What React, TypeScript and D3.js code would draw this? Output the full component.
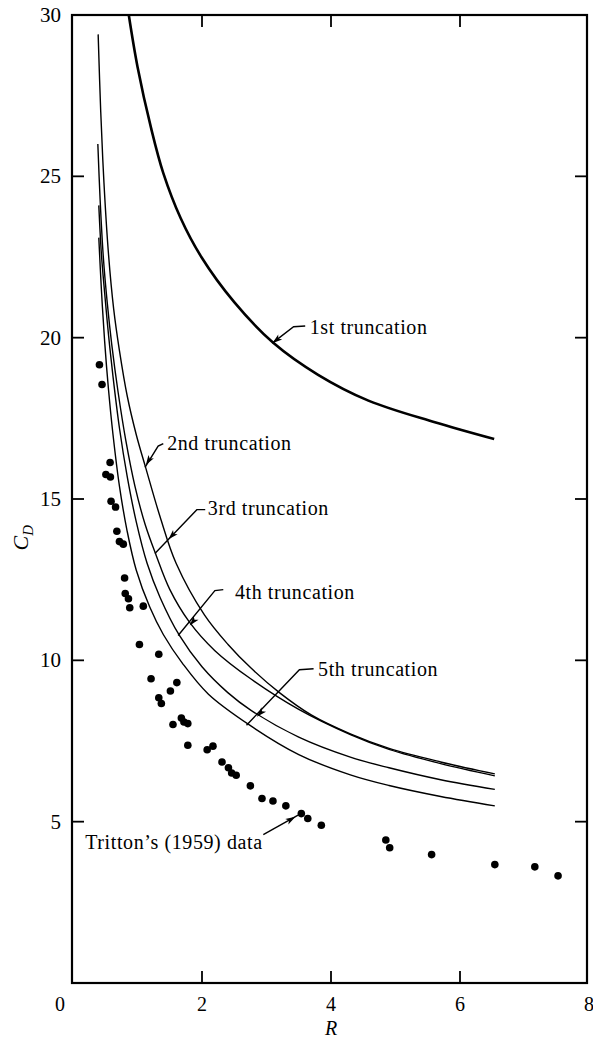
import React from "react";
import * as d3 from "d3";

// ---- axis ticks ----
const R_TICKS = [0, 2, 4, 6, 8];
const CD_TICKS = [5, 10, 15, 20, 25, 30];

// ---- truncation curves [R, C_D] ----
const trunc1: [number, number][] = [
  [0.865, 30], [1.0, 28.4], [1.21, 26.5], [1.4, 25.1], [1.67, 23.7], [1.99, 22.5],
  [2.5, 21.1], [3.1, 19.85], [3.8, 18.85], [4.58, 18.05], [5.61, 17.38], [6.53, 16.86],
];
const trunc2: [number, number][] = [
  [0.39, 29.4], [0.43, 27.0], [0.48, 24.8], [0.55, 22.6], [0.63, 20.9], [0.72, 19.6],
  [0.84, 18.2], [0.98, 17.0], [1.13, 15.95], [1.35, 14.45], [1.6, 13.0], [2.04, 11.4],
  [2.4, 10.5], [2.76, 9.76], [3.2, 9.0], [3.7, 8.3], [4.3, 7.72], [4.9, 7.27],
  [5.7, 6.85], [6.54, 6.48],
];
const trunc3: [number, number][] = [
  [0.385, 26.0], [0.42, 24.3], [0.47, 22.5], [0.53, 21.1], [0.6, 19.8], [0.7, 18.3],
  [0.82, 16.8], [0.96, 15.4], [1.12, 14.2], [1.29, 13.25], [1.5, 12.2], [1.8, 11.2],
  [2.2, 10.3], [2.76, 9.42], [3.5, 8.48], [4.3, 7.7], [4.9, 7.24], [5.7, 6.8], [6.54, 6.42],
];
const trunc4: [number, number][] = [
  [0.4, 24.1], [0.44, 22.6], [0.49, 21.4], [0.55, 20.1], [0.62, 18.8], [0.72, 17.2],
  [0.84, 15.7], [0.98, 14.3], [1.15, 13.0], [1.35, 11.95], [1.65, 10.77], [2.0, 9.8],
  [2.4, 9.0], [2.76, 8.45], [3.5, 7.62], [4.3, 7.0], [4.9, 6.67], [5.7, 6.3], [6.54, 6.0],
];
const trunc5: [number, number][] = [
  [0.4, 23.1], [0.44, 21.5], [0.49, 19.9], [0.55, 18.4], [0.62, 17.0], [0.72, 15.4],
  [0.84, 14.0], [0.98, 12.8], [1.19, 11.65], [1.4, 10.8], [1.7, 9.9], [2.1, 8.95],
  [2.74, 7.99], [3.5, 7.08], [4.3, 6.45], [4.9, 6.12], [5.7, 5.78], [6.54, 5.49],
];

// ---- Tritton's (1959) data ----
const trittonR = [
  0.41, 0.45, 0.575, 0.51, 0.58, 0.59, 0.66, 0.68, 0.72, 0.78, 0.8, 0.81, 0.86, 0.88,
  1.09, 1.03, 1.33, 1.21, 1.61, 1.51, 1.33, 1.37, 1.68, 1.78, 1.72, 1.55, 1.78, 2.08,
  2.17, 2.31, 2.41, 2.46, 2.53, 2.75, 2.93, 3.1, 3.3, 3.54, 3.64, 3.85, 4.85, 4.91,
  5.56, 6.54, 7.16, 7.52,
];
const trittonCD = [
  19.16, 18.55, 16.13, 15.76, 15.68, 14.93, 14.75, 14.0, 13.68, 13.6, 12.55, 12.07, 11.91, 11.63,
  11.68, 10.49, 10.19, 9.43, 9.31, 9.05, 8.84, 8.66, 8.21, 8.04, 8.09, 8.01, 7.37, 7.23,
  7.34, 6.85, 6.67, 6.51, 6.44, 6.11, 5.72, 5.64, 5.49, 5.25, 5.1, 4.89, 4.43, 4.19,
  3.98, 3.67, 3.6, 3.32,
];

// ---- annotations (data units) ----
type Ann = {
  text: string;
  at: [number, number];
  path: [number, number][];
  head: [number, number];
};
const annotations: Ann[] = [
  { text: "1st truncation", at: [3.67, 20.1], path: [[3.6, 20.36], [3.42, 20.34], [3.09, 19.83]], head: [3.09, 19.83] },
  { text: "2nd truncation", at: [1.46, 16.53], path: [[1.4, 16.72], [1.32, 16.64], [1.116, 15.98]], head: [1.13, 16.05] },
  { text: "3rd truncation", at: [2.09, 14.49], path: [[2.05, 14.67], [1.92, 14.67], [1.27, 13.31]], head: [1.48, 13.75] },
  { text: "4th truncation", at: [2.51, 11.89], path: [[2.33, 12.19], [2.2, 12.16], [1.63, 10.77]], head: [1.81, 11.08] },
  { text: "5th truncation", at: [3.8, 9.5], path: [[3.73, 9.74], [3.51, 9.71], [2.69, 7.99]], head: [2.85, 8.25] },
  { text: "Tritton\u2019s (1959) data", at: [0.19, 4.15], path: [[2.95, 4.6], [3.49, 5.2]], head: [3.45, 5.15] },
];

const W = 593;
const H = 1041;
const FONT = "'Liberation Serif', 'DejaVu Serif', serif";

export default function App() {
  const x = d3.scaleLinear().domain([0, 8]).range([73, 589]);
  const y = d3.scaleLinear().domain([0, 30]).range([983, 15]);

  const left = 72, right = 587, top = y(30), bottom = y(0);

  const line = d3
    .line<[number, number]>()
    .x((d) => x(d[0]))
    .y((d) => y(d[1]))
    .curve(d3.curveCatmullRom.alpha(0.5));
  const poly = d3
    .line<[number, number]>()
    .x((d) => x(d[0]))
    .y((d) => y(d[1]));

  const thin = [trunc2, trunc3, trunc4, trunc5];

  const arrowHead = (a: Ann) => {
    const last = a.path[a.path.length - 1];
    const prev = a.path[a.path.length - 2];
    const dx = x(last[0]) - x(prev[0]);
    const dy = y(last[1]) - y(prev[1]);
    const len = Math.hypot(dx, dy) || 1;
    const ux = dx / len, uy = dy / len;
    const hx = x(a.head[0]), hy = y(a.head[1]);
    const L = 10, Wd = 3.2;
    const bx = hx - ux * L, by = hy - uy * L;
    return `M${hx},${hy}L${bx - uy * Wd},${by + ux * Wd}L${bx + ux * 2.5},${by + uy * 2.5}L${bx + uy * Wd},${by - ux * Wd}Z`;
  };

  return (
    <svg
      width={W}
      height={H}
      style={{ position: "absolute", left: 0, top: 0, background: "#fff" }}
      fontFamily={FONT}
    >
      {/* frame */}
      <rect x={left} y={top} width={right - left} height={bottom - top} fill="none" stroke="#000" strokeWidth={2.2} />

      {/* ticks */}
      {CD_TICKS.filter((t) => t !== 30).map((t) => (
        <g key={"yt" + t}>
          <line x1={left} x2={left + 12} y1={y(t)} y2={y(t)} stroke="#000" strokeWidth={1.8} />
          <line x1={right - 12} x2={right} y1={y(t)} y2={y(t)} stroke="#000" strokeWidth={1.8} />
        </g>
      ))}
      {R_TICKS.filter((t) => t > 0 && t < 8).map((t) => (
        <g key={"xt" + t}>
          <line x1={x(t)} x2={x(t)} y1={bottom} y2={bottom - 12} stroke="#000" strokeWidth={1.8} />
          <line x1={x(t)} x2={x(t)} y1={top} y2={top + 12} stroke="#000" strokeWidth={1.8} />
        </g>
      ))}

      {/* tick labels */}
      {CD_TICKS.map((t) => (
        <text key={"yl" + t} x={61} y={y(t) + 7} textAnchor="end" fontSize={21}>
          {t}
        </text>
      ))}
      {R_TICKS.map((t) => (
        <text key={"xl" + t} x={t === 0 ? x(t) - 13 : x(t)} y={1011} textAnchor="middle" fontSize={20}>
          {t}
        </text>
      ))}

      {/* axis titles */}
      <text x={x(4)} y={1035} textAnchor="middle" fontSize={20} fontStyle="italic">
        R
      </text>
      <text transform={`translate(28,${y(13.8)}) rotate(-90)`} textAnchor="middle" fontSize={22} fontStyle="italic">
        C<tspan fontSize={15} dy={5}>D</tspan>
      </text>

      {/* curves */}
      <path d={line(trunc1) ?? ""} fill="none" stroke="#000" strokeWidth={2.6} />
      {thin.map((c, i) => (
        <path key={"c" + i} d={line(c) ?? ""} fill="none" stroke="#000" strokeWidth={1.4} />
      ))}

      {/* data points */}
      {trittonR.map((r, i) => (
        <circle key={"p" + i} cx={x(r)} cy={y(trittonCD[i])} r={3.8} fill="#000" />
      ))}

      {/* annotations */}
      {annotations.map((a, i) => (
        <g key={"a" + i}>
          <path d={poly(a.path) ?? ""} fill="none" stroke="#000" strokeWidth={1.4} />
          <path d={arrowHead(a)} fill="#000" />
          <text x={x(a.at[0])} y={y(a.at[1])} fontSize={20} letterSpacing={0.6}>
            {a.text}
          </text>
        </g>
      ))}
    </svg>
  );
}
